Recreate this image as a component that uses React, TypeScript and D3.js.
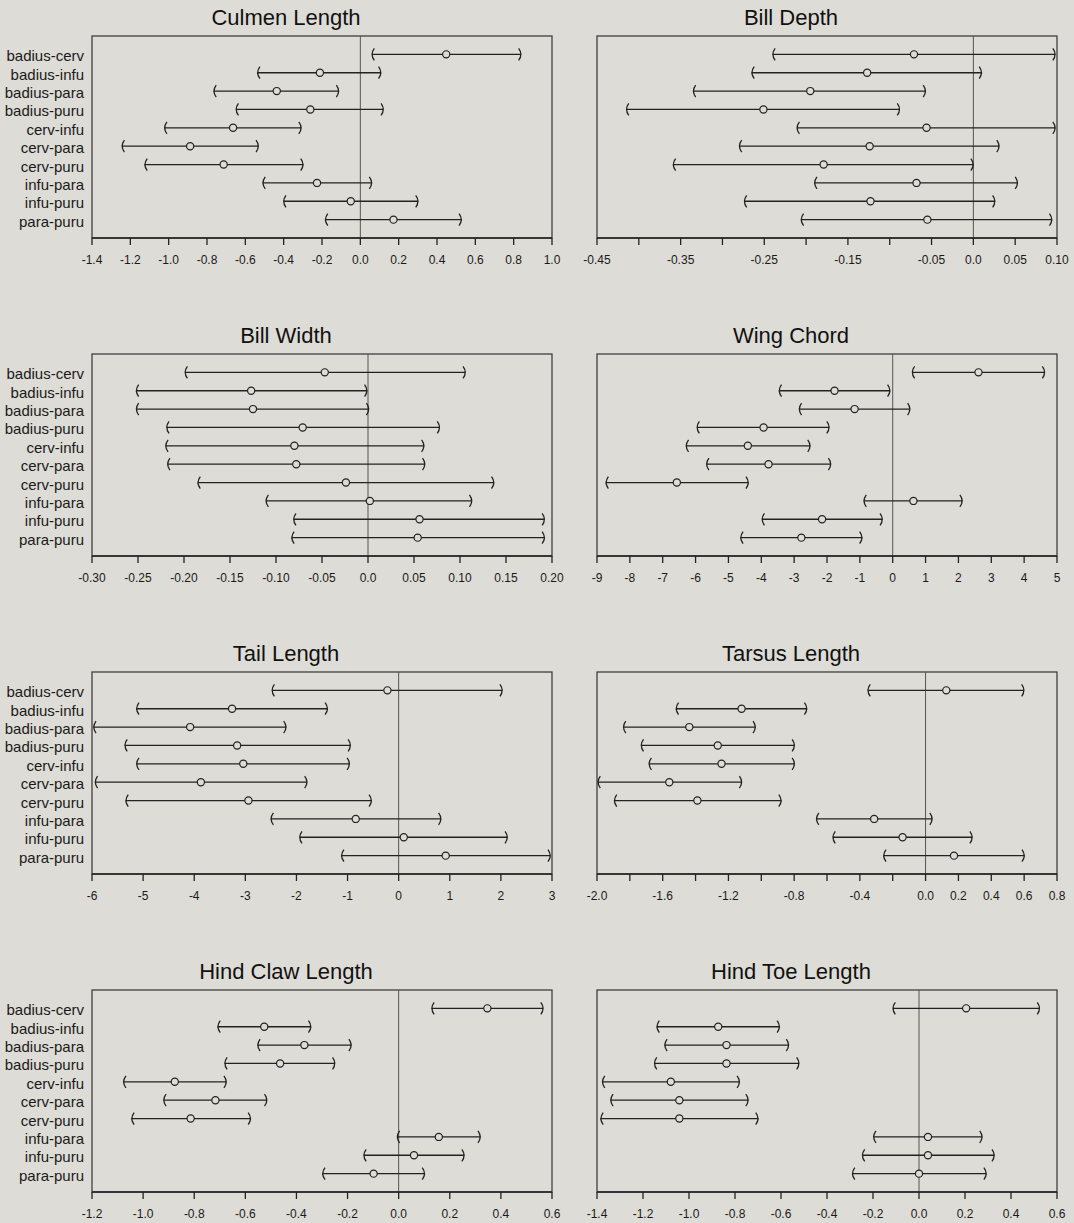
import React from 'react';
import * as d3 from 'd3';

const pairs = [
  'badius-cerv', 'badius-infu', 'badius-para', 'badius-puru', 'cerv-infu',
  'cerv-para', 'cerv-puru', 'infu-para', 'infu-puru', 'para-puru',
];

// [lower, mean, upper] for each pair, in the order above
const culmenLength = [
  [0.06, 0.448, 0.839], [-0.537, -0.211, 0.108], [-0.765, -0.436, -0.112],
  [-0.649, -0.261, 0.121], [-1.022, -0.664, -0.308], [-1.244, -0.888, -0.531],
  [-1.125, -0.713, -0.298], [-0.509, -0.226, 0.06], [-0.401, -0.05, 0.302],
  [-0.183, 0.173, 0.528],
];
const billDepth = [
  [-0.24, -0.071, 0.098], [-0.265, -0.127, 0.01], [-0.335, -0.195, -0.057],
  [-0.415, -0.251, -0.088], [-0.211, -0.056, 0.098], [-0.28, -0.124, 0.031],
  [-0.359, -0.179, 0.0], [-0.19, -0.068, 0.053], [-0.274, -0.123, 0.026],
  [-0.206, -0.055, 0.094],
];
const billWidth = [
  [-0.199, -0.047, 0.106], [-0.252, -0.127, -0.001], [-0.252, -0.125, 0.001],
  [-0.219, -0.071, 0.078], [-0.22, -0.08, 0.061], [-0.218, -0.078, 0.062],
  [-0.185, -0.024, 0.137], [-0.111, 0.002, 0.113], [-0.081, 0.056, 0.192],
  [-0.083, 0.054, 0.192],
];
const wingChord = [
  [0.59, 2.61, 4.63], [-3.46, -1.77, -0.08], [-2.85, -1.16, 0.53],
  [-5.96, -3.93, -1.93], [-6.29, -4.41, -2.51], [-5.67, -3.78, -1.88],
  [-8.73, -6.57, -4.39], [-0.88, 0.63, 2.12], [-3.98, -2.15, -0.31],
  [-4.63, -2.78, -0.93],
];
const tailLength = [
  [-2.48, -0.22, 2.03], [-5.13, -3.26, -1.39], [-5.97, -4.08, -2.2],
  [-5.36, -3.16, -0.94], [-5.13, -3.04, -0.96], [-5.94, -3.87, -1.79],
  [-5.34, -2.94, -0.53], [-2.5, -0.84, 0.83], [-1.94, 0.1, 2.13],
  [-1.12, 0.92, 2.97],
];
const tarsusLength = [
  [-0.352, 0.126, 0.6], [-1.519, -1.12, -0.722], [-1.84, -1.438, -1.035],
  [-1.732, -1.265, -0.797], [-1.684, -1.242, -0.797], [-1.995, -1.56, -1.118],
  [-1.895, -1.389, -0.878], [-0.665, -0.313, 0.041], [-0.565, -0.14, 0.285],
  [-0.256, 0.173, 0.602],
];
const hindClawLength = [
  [0.129, 0.347, 0.566], [-0.708, -0.526, -0.343], [-0.552, -0.369, -0.185],
  [-0.681, -0.464, -0.249], [-1.077, -0.876, -0.674], [-0.92, -0.717, -0.515],
  [-1.045, -0.814, -0.579], [-0.006, 0.157, 0.32], [-0.137, 0.06, 0.257],
  [-0.298, -0.098, 0.102],
];
const hindToeLength = [
  [-0.114, 0.205, 0.525], [-1.14, -0.873, -0.606], [-1.106, -0.837, -0.566],
  [-1.151, -0.837, -0.521], [-1.377, -1.079, -0.78], [-1.341, -1.042, -0.742],
  [-1.384, -1.042, -0.699], [-0.198, 0.039, 0.275], [-0.247, 0.039, 0.328],
  [-0.29, 0.0, 0.293],
];

const culmenTicks = ['-1.4', '-1.2', '-1.0', '-0.8', '-0.6', '-0.4', '-0.2', '0.0', '0.2', '0.4', '0.6', '0.8', '1.0'];
const depthTicks = ['-0.45', '-0.35', '-0.25', '-0.15', '-0.05', '0.0', '0.05', '0.10'];
const widthTicks = ['-0.30', '-0.25', '-0.20', '-0.15', '-0.10', '-0.05', '0.0', '0.05', '0.10', '0.15', '0.20'];
const wingTicks = ['-9', '-8', '-7', '-6', '-5', '-4', '-3', '-2', '-1', '0', '1', '2', '3', '4', '5'];
const tailTicks = ['-6', '-5', '-4', '-3', '-2', '-1', '0', '1', '2', '3'];
const tarsusTicks = ['-2.0', '-1.6', '-1.2', '-0.8', '-0.4', '0.0', '0.2', '0.4', '0.6', '0.8'];
const clawTicks = ['-1.2', '-1.0', '-0.8', '-0.6', '-0.4', '-0.2', '0.0', '0.2', '0.4', '0.6'];
const toeTicks = ['-1.4', '-1.2', '-1.0', '-0.8', '-0.6', '-0.4', '-0.2', '0.0', '0.2', '0.4', '0.6'];

const panels = [
  { title: 'Culmen Length', domain: [-1.4, 1.0], step: 0.2, labels: culmenTicks, rows: culmenLength },
  { title: 'Bill Depth', domain: [-0.45, 0.1], step: 0.05, labels: depthTicks, rows: billDepth },
  { title: 'Bill Width', domain: [-0.3, 0.2], step: 0.05, labels: widthTicks, rows: billWidth },
  { title: 'Wing Chord', domain: [-9, 5], step: 1, labels: wingTicks, rows: wingChord },
  { title: 'Tail Length', domain: [-6, 3], step: 1, labels: tailTicks, rows: tailLength },
  { title: 'Tarsus Length', domain: [-2.0, 0.8], step: 0.2, labels: tarsusTicks, rows: tarsusLength },
  { title: 'Hind Claw Length', domain: [-1.2, 0.6], step: 0.2, labels: clawTicks, rows: hindClawLength },
  { title: 'Hind Toe Length', domain: [-1.4, 0.6], step: 0.2, labels: toeTicks, rows: hindToeLength },
];

const BG = '#dedcd6';
const INK = '#222';
const FONT = 'Arial, "Liberation Sans", Helvetica, sans-serif';

const colLeft = [92, 597];
const rowTop = [36, 354, 672, 990];
const frameW = 460;
const frameH = 202;

function Panel({ p, left, top, showLabels }) {
  const x = d3.scaleLinear().domain(p.domain).range([left, left + frameW]);
  const y = d3.scalePoint().domain(pairs).range([top, top + frameH]).padding(1);
  const n = Math.round((p.domain[1] - p.domain[0]) / p.step);
  const minor = d3.range(n + 1).map(i => p.domain[0] + i * p.step);
  const bottom = top + frameH;

  return (
    <g>
      <text x={left + 194} y={top - 11} textAnchor="middle" fontSize={22} fill="#111">{p.title}</text>
      <rect x={left} y={top} width={frameW} height={frameH} fill="none" stroke="#333" strokeWidth={1.2} />
      <line x1={x(0)} x2={x(0)} y1={top} y2={bottom} stroke="#555" strokeWidth={1} />
      <line x1={left} x2={left + frameW} y1={bottom} y2={bottom} stroke={INK} strokeWidth={1.6} />
      {minor.map((v, i) => (
        <line key={i} x1={x(v)} x2={x(v)} y1={bottom} y2={bottom + 7} stroke={INK} strokeWidth={1.3} />
      ))}
      {p.labels.map(s => (
        <text key={s} x={x(+s)} y={bottom + 26} textAnchor="middle" fontSize={12} fill="#1a1a1a">{s}</text>
      ))}
      {showLabels && pairs.map(k => (
        <text key={k} x={left - 8} y={y(k) + 7} textAnchor="end" fontSize={15} fill="#1a1a1a">{k}</text>
      ))}
      {p.rows.map(([lo, m, hi], i) => {
        const yy = y(pairs[i]);
        const x0 = x(lo), x1 = x(hi);
        return (
          <g key={i} fill="none" stroke={INK} strokeWidth={1.3}>
            <line x1={x0} x2={x1} y1={yy} y2={yy} />
            <path d={`M${x0 + 2.5},${yy - 6} Q${x0 - 2},${yy} ${x0 + 2.5},${yy + 6}`} />
            <path d={`M${x1 - 2.5},${yy - 6} Q${x1 + 2},${yy} ${x1 - 2.5},${yy + 6}`} />
            <circle cx={x(m)} cy={yy} r={3.6} fill={BG} strokeWidth={1.2} />
          </g>
        );
      })}
    </g>
  );
}

export default function App() {
  return (
    <svg width={1074} height={1223} style={{ position: 'absolute', left: 0, top: 0, fontFamily: FONT }}>
      <rect width={1074} height={1223} fill={BG} />
      {panels.map((p, i) => (
        <Panel key={p.title} p={p} left={colLeft[i % 2]} top={rowTop[Math.floor(i / 2)]} showLabels={i % 2 === 0} />
      ))}
    </svg>
  );
}
